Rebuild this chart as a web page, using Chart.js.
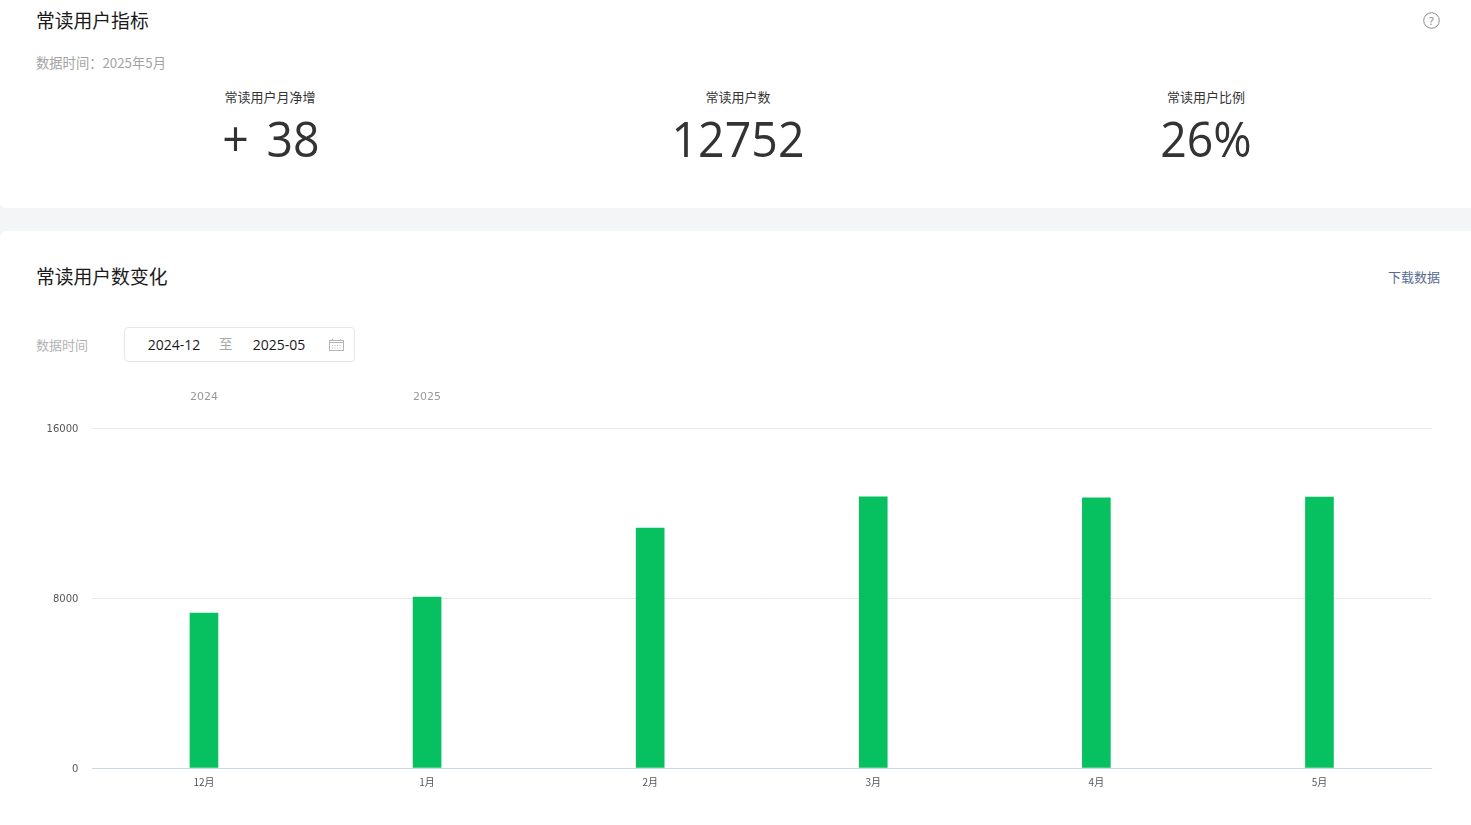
<!DOCTYPE html>
<html lang="zh">
<head>
<meta charset="utf-8">
<title>常读用户指标</title>
<script src="https://cdn.jsdelivr.net/npm/chart.js@4/dist/chart.umd.min.js"></script>
<style>
html, body { margin: 0; padding: 0; background: #f4f5f7; }
body { width: 1471px; height: 825px; overflow: hidden; position: relative; font-family: "Noto Sans CJK SC", "Noto Sans", sans-serif; }
.card { position: absolute; left: 0; width: 1490px; background: #fff; border-radius: 6px; }
.t { position: absolute; white-space: nowrap; line-height: 1; }
.c { transform: translateX(-50%); }
.title { font-size: 18.8px; color: #1a1a1a; }
.num { font-family: "Open Sans", "Noto Sans", sans-serif; font-weight: 400; font-size: 50px; color: #333; word-spacing: 6px; transform: translateX(-50%) scaleX(0.93); }
.lab { font-size: 13px; color: #353535; }
.gray { font-size: 13px; color: #b2b2b2; }
#range { position: absolute; left: 124px; top: 327px; width: 229px; height: 33px; border: 1px solid #e7e7eb; border-radius: 4px; background: #fff; }
.dt { font-family: "Open Sans", "Noto Sans", sans-serif; font-size: 14px; color: #1a1a1a; }
#chartBox { position: absolute; left: 0; top: 380px; }
</style>
</head>
<body>
<div class="card" style="top:-40px;height:248px"></div>
<div class="card" style="top:231px;height:600px"></div>

<div class="t title" style="left:36px;top:11px">常读用户指标</div>
<div class="t" style="left:36px;top:56px;font-size:13.3px;color:#a3a3a3">数据时间：2025年5月</div>
<svg style="position:absolute;left:1423px;top:12px" width="17" height="17" viewBox="0 0 17 17">
  <circle cx="8.5" cy="8.5" r="7.8" fill="none" stroke="#8c8c8c" stroke-width="1"/>
  <text x="8.5" y="12.5" text-anchor="middle" font-size="11" fill="#8c8c8c" font-family="Noto Sans">?</text>
</svg>
<div id="stats"></div>

<div class="t title" style="left:36px;top:267px">常读用户数变化</div>
<div class="t" style="left:1388px;top:270px;font-size:13px;color:#576b95">下载数据</div>
<div class="t gray" style="left:36px;top:338px">数据时间</div>
<div id="range"></div>
<div class="t dt c" style="left:174px;top:338px">2024-12</div>
<div class="t" style="left:219px;top:337px;font-size:13.5px;color:#a8a8a8">至</div>
<div class="t dt c" style="left:279px;top:338px">2025-05</div>
<svg style="position:absolute;left:329px;top:339px" width="15" height="12" viewBox="0 0 15 12">
  <rect x="0.5" y="1.5" width="14" height="10" fill="none" stroke="#b5b5b5"/>
  <path d="M0.5 3.5H14.5M3.5 0V2M11.5 0V2" stroke="#b5b5b5" fill="none"/>
  <path d="M3 6.5h9M3 9h9" stroke="#b5b5b5" stroke-dasharray="1 1.5" fill="none"/>
</svg>

<div id="chartBox"><canvas id="trendCanvas" width="1471" height="420"></canvas></div>

<script>
var statNames = ["常读用户月净增", "常读用户数", "常读用户比例"];
var statValues = ["+ 38", "12752", "26%"];
var months = ["12月", "1月", "2月", "3月", "4月", "5月"];
var years = ["2024", "2025", "", "", "", ""];
var readers = [7290, 8040, 11290, 12760, 12714, 12752];
var yTicks = [0, 8000, 16000];

var statCenters = [271, 738, 1206];
var statsHtml = "";
for (var i = 0; i < statNames.length; i++) {
    statsHtml += '<div class="t lab c" style="left:' + (i === 0 ? 270 : statCenters[i]) + 'px;top:90px">' + statNames[i] + '</div>';
    statsHtml += '<div class="t num" style="left:' + statCenters[i] + 'px;top:113px">' + statValues[i] + '</div>';
}
document.getElementById("stats").innerHTML = statsHtml;

var trendChart = new Chart(document.getElementById("trendCanvas").getContext("2d"), {
    type: "bar",
    data: {
        labels: months,
        datasets: [{
            label: "常读用户数",
            data: readers,
            backgroundColor: "#07c160",
            barThickness: 28,
            xAxisID: "x",
            yAxisID: "y"
        }]
    },
    options: {
        responsive: false,
        animation: false,
        layout: { padding: { left: 0, right: 40, top: 0, bottom: 0 } },
        plugins: {
            legend: { display: false },
            title: { display: false },
            tooltip: { enabled: false }
        },
        scales: {
            x: {
                position: "bottom",
                grid: { display: false },
                border: { display: true, color: "#ccd6eb", width: 1 },
                ticks: { color: "#555", font: { size: 10, family: "Noto Sans CJK SC" }, padding: 0, maxRotation: 0 },
                afterFit: function (axis) { axis.height = 32; }
            },
            x2: {
                type: "category",
                position: "top",
                labels: years,
                grid: { display: false },
                border: { display: false },
                ticks: { color: "#999", font: { size: 11, family: "DejaVu Sans" }, padding: 16, autoSkip: false, maxRotation: 0 },
                afterFit: function (axis) { axis.height = 48; }
            },
            y: {
                min: 0,
                max: 16000,
                afterBuildTicks: function (axis) {
                    axis.ticks = yTicks.map(function (v) { return { value: v }; });
                },
                grid: {
                    color: function (ctx) { return ctx.tick.value === 0 ? "rgba(0,0,0,0)" : "#e9e9e9"; },
                    drawTicks: false
                },
                border: { display: false },
                ticks: {
                    color: "#555",
                    font: { size: 10, family: "DejaVu Sans" },
                    padding: 14,
                    labelOffset: 1,
                    callback: function (value) { return String(value); }
                },
                afterFit: function (axis) { axis.width = 92.42; }
            }
        }
    }
});
</script>
</body>
</html>
